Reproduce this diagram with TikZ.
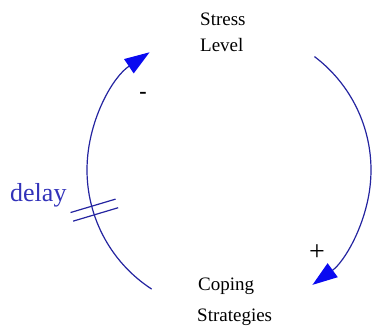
\documentclass[tikz,border=0pt]{standalone}
\usepackage{fontspec}
\setmainfont{Liberation Serif}
\usetikzlibrary{arrows.meta,calc}
\definecolor{loopline}{RGB}{36,36,160}
\definecolor{headblue}{RGB}{10,10,240}
\definecolor{delayblue}{RGB}{50,50,185}
\tikzset{
  lbl/.style={inner sep=0pt,anchor=base west,font=\fontsize{19}{22}\selectfont,text=black},
  loop/.style={draw=loopline,line width=1.2pt,-{Triangle[length=25pt,width=17pt,color=headblue]}},
  delaymark/.style={draw=loopline,line width=1.2pt}
}
\begin{document}
\begin{tikzpicture}[x=1pt,y=1pt]
\useasboundingbox (0,0) rectangle (376,326);
\coordinate (c) at (229,156);
% labels
\node[lbl] (stressA) at (200,300) {Stress};
\node[lbl] (stressB) at (200,274) {Level};
\node[lbl] (copingA) at (198,35) {Coping};
\node[lbl] (copingB) at (197,4) {Strategies};
\node[inner sep=0pt,anchor=base west,font=\fontsize{26}{30}\selectfont,text=delayblue] (delay) at (10,124) {delay};
\node[inner sep=0pt,anchor=base,font=\bfseries\fontsize{22}{26}\selectfont] (minus) at (143,227) {-};
\node[inner sep=0pt,anchor=base,font=\fontsize{28}{32}\selectfont] (plus) at (317,65) {+};
% arc endpoints
\coordinate (sOut) at ($(c)+(53:142pt)$);
\coordinate (cOut) at ($(c)+(237:142pt)$);
\coordinate (dm) at ($(c)+(196.6:142pt)$);
% connectors
\draw[loop] (sOut) arc[start angle=53,end angle=-54,radius=142pt];
\draw[loop] (cOut) arc[start angle=237,end angle=124,radius=142pt];
% delay mark
\draw[delaymark] ($(dm)+(196.6:22pt)+(106.6:4.5pt)$) -- ($(dm)+(16.6:25pt)+(106.6:4.5pt)$);
\draw[delaymark] ($(dm)+(196.6:22pt)+(286.6:4.5pt)$) -- ($(dm)+(16.6:25pt)+(286.6:4.5pt)$);
\end{tikzpicture}
\end{document}
